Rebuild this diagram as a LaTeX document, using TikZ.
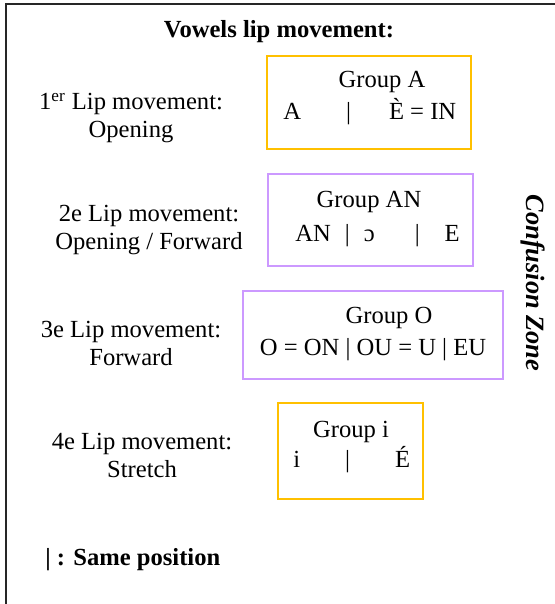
\documentclass[tikz,border=0pt]{standalone}
\usepackage{fontspec}
\setmainfont{Liberation Serif}
\usepackage{xcolor}
\usetikzlibrary{positioning}
\definecolor{groupgold}{HTML}{FFC000}
\definecolor{grouplilac}{HTML}{CC99FF}
\tikzstyle{movement} = [align=center, font=\fontsize{12.3}{14}\selectfont, inner sep=0pt]
\tikzstyle{vowels} = [anchor=base, font=\fontsize{12.3}{14}\selectfont, inner sep=0pt]
\tikzstyle{vowelrow} = [anchor=base west, font=\fontsize{12.3}{14}\selectfont, inner sep=0pt]
\tikzstyle{goldbox} = [rectangle, draw=groupgold, line width=1pt]
\tikzstyle{lilacbox} = [rectangle, draw=grouplilac, line width=1pt]

\begin{document}
\begin{tikzpicture}[x=0.5pt, y=-0.5pt]
        \useasboundingbox (0,0) rectangle (555,604);
        % Frame
        \draw [line width=1pt, black!85] (5,4) -- (555,4);
        \draw [line width=1pt, black!85] (6,4) -- (6,604);

        % Title
        \node [vowels, font=\fontsize{12.3}{14}\selectfont\bfseries] (title) at (279,38) {Vowels lip movement:};

        % Group boxes
        \node [goldbox, minimum width=102pt, minimum height=46.5pt] (groupA) at (369,102.5) {};
        \node [lilacbox, minimum width=102.5pt, minimum height=46pt] (groupAN) at (370.5,220) {};
        \node [lilacbox, minimum width=130pt, minimum height=44pt] (groupO) at (373,335) {};
        \node [goldbox, minimum width=72.5pt, minimum height=48pt] (groupI) at (350.5,451) {};

        % Box texts
        \node [vowels] (nameA) at (382,88) {Group A};
        \node [vowelrow] (rowA) at (283,120) {A\hspace{22.5pt}|\hspace{19pt}È = IN};
        \node [vowels] (nameAN) at (369,207) {Group AN};
        \node [vowelrow] (rowAN) at (295,242) {AN\hspace{7pt}|\hspace{7pt}ɔ\hspace{20pt}|\hspace{12.5pt}E};
        \node [vowels] (nameO) at (389,323) {Group O};
        \node [vowels] (rowO) at (373,355) {O = ON | OU = U | EU};
        \node [vowels] (nameI) at (351,437) {Group i};
        \node [vowelrow] (rowI) at (293,467) {i\hspace{22.5pt}|\hspace{22.5pt}É};

        % Lip movements
        \node [movement] (move1) at (131,118) {1\textsuperscript{er} Lip movement:\\Opening};
        \node [movement] (move2) at (149,230) {2e Lip movement:\\Opening / Forward};
        \node [movement] (move3) at (131,343) {3e Lip movement:\\Forward};
        \node [movement] (move4) at (142,455) {4e Lip movement:\\Stretch};

        % Side note and legend
        \node [movement, font=\fontsize{13.2}{15}\selectfont\bfseries\itshape, rotate=-90] (confusion) at (533,283) {Confusion Zone};
        \node [vowelrow, font=\fontsize{12.3}{14}\selectfont\bfseries] (legend) at (45,565) {| : Same position};
    \end{tikzpicture}
\end{document}
